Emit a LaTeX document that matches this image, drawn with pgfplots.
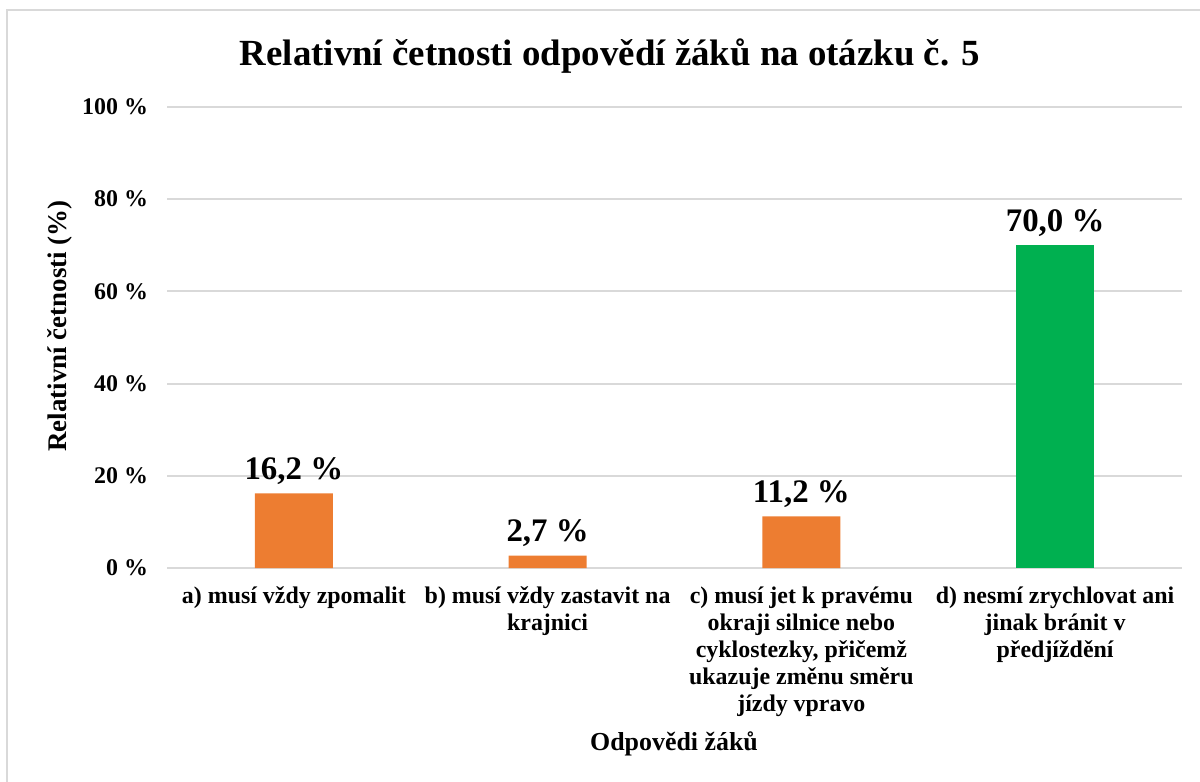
\documentclass[border=0pt]{standalone}
\usepackage{pgfplots}
\pgfplotsset{compat=1.18}
\usepackage{fontspec}
\setmainfont{Liberation Serif}
\definecolor{barorange}{HTML}{ED7D31}
\definecolor{bargreen}{HTML}{00B050}
\definecolor{gridgray}{HTML}{D9D9D9}
\begin{document}
\begin{tikzpicture}
\useasboundingbox (0,0) rectangle (600bp,391bp);
% light frame (only left and top edges are inside the picture)
\draw[gridgray, line width=1bp] (3.5bp,0) -- (3.5bp,386bp) -- (600bp,386bp);
\node[font=\fontsize{18.5}{21}\selectfont\bfseries] at (305bp,363bp)
  {Relativní četnosti odpovědí žáků na otázku č. 5};
\node[font=\fontsize{13.5}{16}\selectfont\bfseries, rotate=90] at (30bp,228bp)
  {Relativní četnosti (\%)};
\node[font=\fontsize{13}{15}\selectfont\bfseries] at (337bp,19bp)
  {Odpovědi žáků};
\begin{axis}[
    at={(83.5bp,107bp)}, anchor=south west,
    scale only axis,
    width=507.5bp, height=230.5bp,
    xmin=-0.5, xmax=3.5,
    ymin=0, ymax=100,
    ytick={0,20,40,60,80,100},
    xtick={0,1,2,3},
    xticklabels={
        {a) musí vždy zpomalit},
        {b) musí vždy zastavit na\\krajnici},
        {c) musí jet k pravému\\okraji silnice nebo\\cyklostezky, přičemž\\ukazuje změnu směru\\jízdy vpravo},
        {d) nesmí zrychlovat ani\\jinak bránit v\\předjíždění}},
    xticklabel style={align=center, font=\fontsize{12}{13.5}\selectfont\bfseries, yshift=-6bp},
    yticklabel={\pgfmathprintnumber{\tick}~\%},
    yticklabel style={font=\fontsize{12}{14}\selectfont\bfseries, xshift=-6bp},
    /pgf/number format/assume math mode=true,
    axis line style={draw=none},
    major tick length=0pt,
    ymajorgrids,
    grid style={gridgray, line width=1bp},
    ybar, bar width=39bp, bar shift=0pt,
    nodes near coords={\pgfmathprintnumber[fixed,fixed zerofill,precision=1,use comma]{\pgfplotspointmeta}~\%},
    nodes near coords style={font=\fontsize{16.5}{19}\selectfont\bfseries, yshift=1bp},
    clip=false,
]
\addplot[fill=barorange, draw=none] coordinates {(0,16.2) (1,2.7) (2,11.2)};
\addplot[fill=bargreen, draw=none] coordinates {(3,70.0)};
\end{axis}
\end{tikzpicture}
\end{document}
